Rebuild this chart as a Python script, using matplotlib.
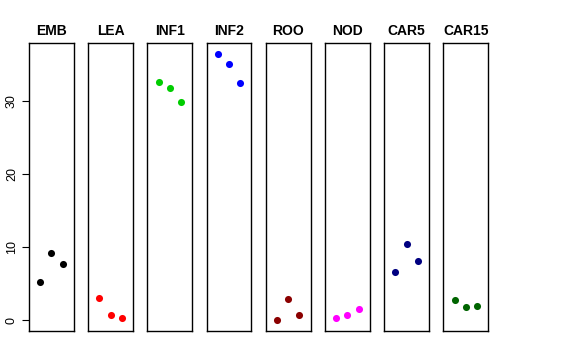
import matplotlib
matplotlib.use("Agg")
import matplotlib.pyplot as plt

tissues = ["EMB", "LEA", "INF1", "INF2", "ROO", "NOD", "CAR5", "CAR15"]
colors = ["#000000", "#FF0000", "#00CD00", "#0000FF", "#8B0000", "#FF00FF", "#000080", "#006400"]
values = {
    "EMB": [5.3, 9.2, 7.7],
    "LEA": [3.0, 0.73, 0.27],
    "INF1": [32.6, 31.8, 29.8],
    "INF2": [36.5, 35.0, 32.4],
    "ROO": [0.0, 2.96, 0.73],
    "NOD": [0.36, 0.73, 1.6],
    "CAR5": [6.6, 10.4, 8.1],
    "CAR15": [2.8, 1.8, 1.9],
}
reps = [1, 2, 3]
yticks = [0, 10, 20, 30]

plt.rcParams['font.family'] = ['Liberation Sans', 'DejaVu Sans']
W, H = 576, 360
fig = plt.figure(figsize=(W / 100, H / 100), dpi=100)

for i, (t, c) in enumerate(zip(tissues, colors)):
    left = 29 + 59.2 * i
    ax = fig.add_axes([left / W, 29 / H, 44.7 / W, 287.7 / H])
    ax.scatter(reps, values[t], s=26, color=c, linewidths=0, zorder=3)
    ax.set_xlim(0, 4)
    ax.set_ylim(-1.47, 37.9)
    ax.set_xticks([])
    for sp in ax.spines.values():
        sp.set_linewidth(1.0)
        sp.set_color("#000000")
    ax.set_title(t, fontsize=10, fontweight="bold", pad=6)
    if i == 0:
        ax.set_yticks(yticks)
        ax.set_yticklabels([str(v) for v in yticks], rotation=90, va="center", fontsize=9)
        ax.tick_params(axis="y", length=5, width=0.8, pad=3)
    else:
        ax.set_yticks([])

fig.savefig("out.png", dpi=100)
